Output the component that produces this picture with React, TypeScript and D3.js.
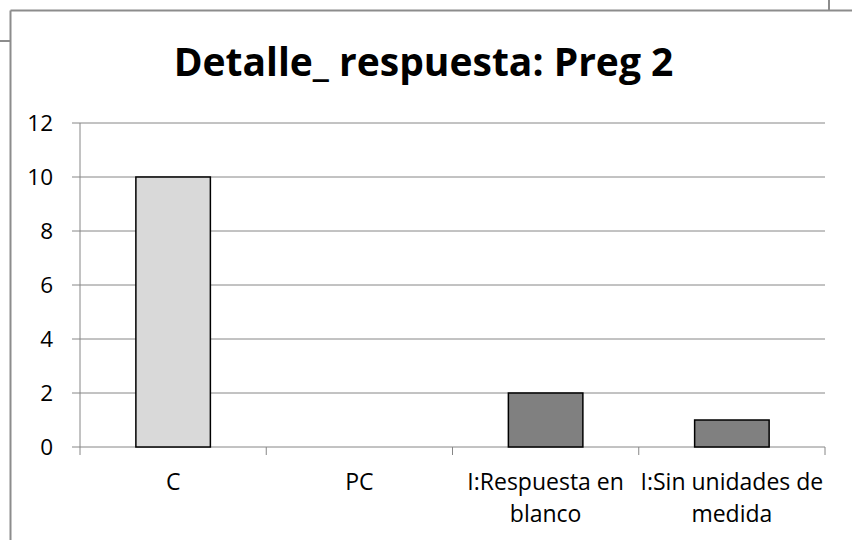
import React from "react";
import * as d3 from "d3";

const categories: string[][] = [["C"], ["PC"], ["I:Respuesta en", "blanco"], ["I:Sin unidades de", "medida"]];
const values: number[] = [10, 0, 2, 1];
const barColors: string[] = ["#d9d9d9", "#808080", "#808080", "#808080"];
const yTicks: number[] = [0, 2, 4, 6, 8, 10, 12];
const title = "Detalle_ respuesta: Preg 2";

const W = 852;
const H = 540;
const plot = { left: 80, right: 825, top: 123, bottom: 447 };
const font = "'Open Sans', sans-serif";
const gridColor = "#868686";

export default function App() {
  const x = d3
    .scaleBand<number>()
    .domain(d3.range(categories.length))
    .range([plot.left, plot.right])
    .padding(0);
  const y = d3.scaleLinear().domain([0, 12]).range([plot.bottom, plot.top]);
  const bw = x.bandwidth() * 0.4;
  const boundaries = d3.range(categories.length + 1).map((i) => plot.left + i * x.bandwidth());

  return (
    <svg
      width={W}
      height={H}
      style={{ position: "absolute", left: 0, top: 0, background: "#fff" }}
    >
      <rect x={0} y={0} width={W} height={H} fill="#fff" />
      {/* outer borders */}
      <line x1={10.5} y1={10.5} x2={10.5} y2={H} stroke="#8c8c8c" strokeWidth={2} />
      <line x1={10.5} y1={10.5} x2={W} y2={10.5} stroke="#8c8c8c" strokeWidth={2} />
      <line x1={0} y1={41} x2={10.5} y2={41} stroke="#8c8c8c" strokeWidth={2} />
      <line x1={829} y1={0} x2={829} y2={10.5} stroke="#8c8c8c" strokeWidth={2} />

      <text
        x={423.5}
        y={76}
        textAnchor="middle"
        fontFamily={font}
        fontWeight="bold"
        fontSize={39}
        fill="#000"
      >
        {title}
      </text>

      {/* gridlines and y ticks */}
      {yTicks.map((t) => (
        <g key={t}>
          {t !== 0 && (
            <line x1={plot.left} x2={plot.right} y1={y(t)} y2={y(t)} stroke={gridColor} strokeWidth={1} />
          )}
          <line x1={plot.left - 8} x2={plot.left} y1={y(t)} y2={y(t)} stroke={gridColor} strokeWidth={1} />
          <text
            x={53}
            y={y(t)}
            dy="0.36em"
            textAnchor="end"
            fontFamily={font}
            fontSize={22.5}
            fill="#000"
          >
            {t}
          </text>
        </g>
      ))}

      {/* axes */}
      <line x1={plot.left} x2={plot.left} y1={plot.top} y2={plot.bottom} stroke={gridColor} strokeWidth={1} />
      <line x1={plot.left} x2={plot.right} y1={plot.bottom} y2={plot.bottom} stroke={gridColor} strokeWidth={1} />
      {boundaries.map((bx, i) => (
        <line key={i} x1={bx} x2={bx} y1={plot.bottom} y2={plot.bottom + 8} stroke={gridColor} strokeWidth={1} />
      ))}

      {/* bars */}
      {values.map((v, i) =>
        v > 0 ? (
          <rect
            key={i}
            x={(x(i) as number) + (x.bandwidth() - bw) / 2}
            y={y(v)}
            width={bw}
            height={y(0) - y(v)}
            fill={barColors[i]}
            stroke="#000"
            strokeWidth={1.5}
          />
        ) : null
      )}

      {/* category labels */}
      {categories.map((lines, i) => (
        <text
          key={i}
          x={(x(i) as number) + x.bandwidth() / 2}
          y={490}
          textAnchor="middle"
          fontFamily={font}
          fontSize={23}
          fill="#000"
        >
          {lines.map((l, j) => (
            <tspan key={j} x={(x(i) as number) + x.bandwidth() / 2} dy={j === 0 ? 0 : 32}>
              {l}
            </tspan>
          ))}
        </text>
      ))}
    </svg>
  );
}
